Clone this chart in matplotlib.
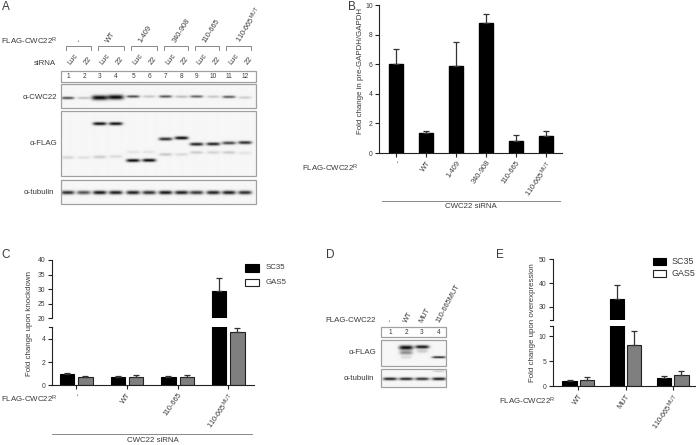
import numpy as np
import matplotlib
matplotlib.use("Agg")
import matplotlib.pyplot as plt
from matplotlib.patches import Rectangle

plt.rcParams['font.family'] = ['Liberation Sans', 'DejaVu Sans']
plt.rcParams['mathtext.fontset'] = 'custom'
plt.rcParams['mathtext.rm'] = 'Liberation Sans'
plt.rcParams['mathtext.default'] = 'rm'

W, H = 696, 445
TXT = '#3a3a3a'
SUP = r'$^{\mathrm{R}}$'
MUT = r'110-665$^{\mathrm{MUT}}$'

# ---------- data ----------
b_labels = ['-', 'WT', '1-409', '340-908', '110-665', MUT]
b_values = [6.0, 1.35, 5.9, 8.8, 0.8, 1.15]
b_errors = [1.05, 0.15, 1.6, 0.6, 0.4, 0.35]

c_labels = ['-', 'WT', '110-665', MUT]
c_sc35 = [0.95, 0.75, 0.75, 29.5]
c_sc35_err = [0.12, 0.05, 0.08, 4.2]
c_gas5 = [0.7, 0.75, 0.7, 4.6]
c_gas5_err = [0.08, 0.1, 0.15, 0.35]

e_labels = ['WT', 'MUT', MUT]
e_sc35 = [1.0, 33.5, 1.7]
e_sc35_err = [0.2, 5.8, 0.3]
e_gas5 = [1.3, 8.3, 2.2]
e_gas5_err = [0.6, 2.8, 0.8]

# western blot bands: lane number, strength (0-1)
a_groups = ['-', 'WT', '1-409', '340-908', '110-665', MUT]
a_cwc22 = [0.72, 0.22, 1.0, 1.0, 0.72, 0.2, 0.68, 0.25, 0.62, 0.2, 0.65, 0.18]
a_tubulin = [0.85, 0.7, 0.95, 0.92, 0.92, 0.85, 0.95, 0.92, 0.82, 0.9, 0.92, 0.85]
a_flag_strong = [(3, 0.98), (4, 0.98), (5, 1.0), (6, 1.0), (7, 0.85), (8, 1.0),
                 (9, 0.9), (10, 0.9), (11, 0.75), (12, 0.85)]
a_flag_faint = [(1, 0.14), (2, 0.1), (3, 0.18), (4, 0.12), (5, 0.08), (6, 0.08),
                (7, 0.2), (8, 0.12), (9, 0.18), (10, 0.15), (11, 0.18), (12, 0.08)]
d_labels = ['-', 'WT', 'MUT', '110-665MUT']
d_flag_main = [(2, 1.0), (3, 0.95), (4, 0.9)]
d_tubulin = [0.92, 0.9, 0.85, 0.95]

# ---------- helpers ----------
fig = plt.figure(figsize=(W / 100, H / 100), dpi=100, facecolor='white')
ov = fig.add_axes([0, 0, 1, 1], zorder=0)
ov.set_xlim(0, W)
ov.set_ylim(H, 0)
ov.axis('off')


def px_axes(x0, y_top, x1, y_bot):
    ax = fig.add_axes([x0 / W, 1 - y_bot / H, (x1 - x0) / W, (y_bot - y_top) / H], zorder=2)
    ax.patch.set_alpha(0)
    for s in ('top', 'right'):
        ax.spines[s].set_visible(False)
    for s in ('left', 'bottom'):
        ax.spines[s].set_linewidth(0.8)
        ax.spines[s].set_color('#222222')
    ax.tick_params(length=3, width=0.8, labelsize=4.9, pad=1.5, colors='#222222', labelcolor=TXT)
    return ax


def t(x, y, s, size=5.7, **kw):
    kw.setdefault('va', 'center')
    kw.setdefault('ha', 'left')
    kw.setdefault('color', TXT)
    ov.text(x, y, s, fontsize=size, **kw)


def rot_labels(ax, labels, rot=55, size=5.3):
    ax.set_xticklabels(labels, rotation=rot, ha='right', rotation_mode='anchor',
                       fontsize=size, color=TXT)


def blot(x0, y0, x1, y1, bands):
    """bands: (x centre, y centre, half width, half height, strength) in figure pixels"""
    ss = 3
    nx, ny = int((x1 - x0) * ss), int((y1 - y0) * ss)
    xs = x0 + (np.arange(nx) + 0.5) / ss
    ys = y0 + (np.arange(ny) + 0.5) / ss
    X, Y = np.meshgrid(xs, ys)
    dark = np.zeros_like(X)
    for cx, cy, hw, hh, s in bands:
        dark += s * np.exp(-np.abs((X - cx) / hw) ** 4) * np.exp(-((Y - cy) / hh) ** 2)
    img = 0.965 - 0.93 * np.clip(dark, 0, 1)
    ov.imshow(img, cmap='gray', vmin=0, vmax=1, extent=(x0, x1, y1, y0),
              aspect='auto', interpolation='bilinear', zorder=1)
    ov.add_patch(Rectangle((x0, y0), x1 - x0, y1 - y0, fill=False, ec='#a0a0a0', lw=0.9, zorder=2))


def box(x0, y0, x1, y1):
    ov.add_patch(Rectangle((x0, y0), x1 - x0, y1 - y0, fill=False, ec='#a0a0a0', lw=0.9, zorder=2))


def up_label(x, y, s, rot=58, size=5.3):
    t(x, y, s, size=size, rotation=rot, ha='left', va='center', rotation_mode='anchor')


# ---------- panel A ----------
t(2, 7, 'A', size=8.5)
lanes_a = [68, 84, 100, 116, 133.3, 149.3, 165.7, 181.7, 196.7, 213.3, 229, 245]
box(61.3, 70.7, 256, 81.7)
for i, x in enumerate(lanes_a):
    t(x, 76.5, str(i + 1), size=4.7, ha='center')
    up_label(x + 1, 64, 'Luc' if i % 2 == 0 else '22', rot=52, size=5.4)

ycw = [98.3, 98.3, 98, 97.5, 96.8, 96.8, 96.8, 97, 96.8, 97, 97.2, 97.8]
blot(61.3, 84.3, 256, 108.3,
     [(x, y, 6.5 if s < 1 else 8, 1.3 if s < 1 else 2.4, s) for x, y, s in zip(lanes_a, ycw, a_cwc22)])
flag_y = {3: 123.7, 4: 123.7, 5: 160.5, 6: 160.3, 7: 139, 8: 138, 9: 144.2, 10: 144, 11: 143, 12: 142.6}
faint_y = {1: 157.5, 2: 157.5, 3: 157, 4: 156.5, 5: 152, 6: 152, 7: 154.5, 8: 154.5, 9: 152.5, 10: 152.5,
           11: 152.5, 12: 153}
flag_bands = [(lanes_a[l - 1], flag_y[l], 6.8, 1.6, s) for l, s in a_flag_strong]
flag_bands += [(lanes_a[l - 1], faint_y[l], 6.5, 1.5, s) for l, s in a_flag_faint]
blot(61.3, 111, 256, 176, flag_bands)
blot(61.3, 180, 256, 204.3,
     [(x, 193, 6.8, 1.8, s) for x, s in zip(lanes_a, a_tubulin)])

t(1, 41, 'FLAG-CWC22' + SUP)
t(56, 63.5, 'siRNA', ha='right', size=5.7)
t(57, 97.5, 'α-CWC22', ha='right')
t(57, 143.5, 'α-FLAG', ha='right')
t(54.5, 192.5, 'α-tubulin', ha='right')
br_a = [(66.3, 91), (98.3, 124), (131.3, 156.7), (164, 188.3), (195, 219.3), (226, 250.7)]
starts_a = [78, 107.5, 140.5, 174, 204, 238]
for (x0, x1), lab, xs in zip(br_a, a_groups, starts_a):
    ov.plot([x0, x0, x1, x1], [49.5, 46.3, 46.3, 49.5], color='#888888', lw=0.7, zorder=2)
    up_label(xs, 42, lab)

# ---------- panel B ----------
t(348, 7, 'B', size=8.5)
axb = px_axes(379, 5, 562, 153)
xb = np.arange(len(b_values))
axb.bar(xb, b_values, 0.49, color='black', edgecolor='black')
axb.errorbar(xb, b_values, yerr=[np.zeros(6), b_errors], fmt='none', ecolor='#333333', elinewidth=0.9,
             capsize=2.3, capthick=0.9)
axb.set_xlim(-0.567, 5.533)
axb.set_ylim(0, 10)
axb.set_yticks([0, 2, 4, 6, 8, 10])
axb.set_xticks(xb)
rot_labels(axb, b_labels)
t(361, 71, 'Fold change in pre-GAPDH/GAPDH', rotation=90, ha='center', size=5.7)
t(302, 168, 'FLAG-CWC22' + SUP, size=5.7)
ov.plot([381.7, 560], [201, 201], color='#888888', lw=0.7)
t(471, 206.5, 'CWC22 siRNA', ha='center')


# ---------- grouped broken panels ----------
def broken(x0, x1, y_rows, ylims, yticks, first, step, a, a_err, b, b_err, labels):
    (t0, t1), (l0, l1) = y_rows
    up = px_axes(x0, t0, x1, t1)
    lo = px_axes(x0, l0, x1, l1)
    up.spines['bottom'].set_visible(False)
    n = len(a)
    xa = np.arange(n)
    off = 0.18
    w = 14.4 / step
    xlim = ((x0 - first) / step, (x1 - first) / step)
    for ax in (up, lo):
        ax.bar(xa - off, a, w, color='black', edgecolor='black', lw=0.8)
        ax.bar(xa + off, b, w, color='#7f7f7f', edgecolor='#222222', lw=0.8)
        ax.errorbar(xa - off, a, yerr=[np.zeros(n), a_err], fmt='none', ecolor='#333333',
                    elinewidth=0.9, capsize=2.2, capthick=0.9)
        ax.errorbar(xa + off, b, yerr=[np.zeros(n), b_err], fmt='none', ecolor='#333333',
                    elinewidth=0.9, capsize=2.2, capthick=0.9)
        ax.set_xlim(*xlim)
    up.set_ylim(*ylims[0])
    lo.set_ylim(*ylims[1])
    up.set_yticks(yticks[0])
    lo.set_yticks(yticks[1])
    up.set_xticks([])
    lo.set_xticks(xa)
    rot_labels(lo, labels)


def legend(x0, x1, y1a, y1b, y2a, y2b, xt, size):
    ov.add_patch(Rectangle((x0, y1a), x1 - x0, y1b - y1a, fc='black', ec='black', lw=0.8))
    ov.add_patch(Rectangle((x0, y2a), x1 - x0, y2b - y2a, fc='white', ec='#222222', lw=0.8))
    t(xt, (y1a + y1b) / 2, 'SC35', size=size)
    t(xt, (y2a + y2b) / 2, 'GAS5', size=size)


# ---------- panel C ----------
t(1, 255, 'C', size=8.5)
broken(51.5, 254, [(260, 318.3), (327.3, 385.3)], [(20, 40), (0, 5)],
       [[20, 25, 30, 35, 40], [0, 2, 4]], 76.2, 50.7,
       c_sc35, c_sc35_err, c_gas5, c_gas5_err, c_labels)
ov.plot([49, 51.5], [327.3, 327.3], color='#222222', lw=0.8)
t(29.5, 324, 'Fold change upon knockdown', rotation=90, ha='center', size=5.7)
t(1, 399, 'FLAG-CWC22' + SUP, size=5.7)
ov.plot([52, 252], [434.3, 434.3], color='#888888', lw=0.7)
t(153, 440, 'CWC22 siRNA', ha='center')
legend(244.5, 258.5, 264, 271.5, 279, 286, 266, 5.7)

# ---------- panel D ----------
t(326, 255, 'D', size=8.5)
lanes_d = [390, 406, 422, 438.7]
box(381, 326.7, 445.7, 337.3)
for i, x in enumerate(lanes_d):
    t(x, 332.5, str(i + 1), size=4.7, ha='center')
    up_label(x - 0.5, 322, d_labels[i], rot=62)
d_y = {2: 347.5, 3: 346.8, 4: 357}
d_h = {2: 2.2, 3: 1.7, 4: 1.0}
d_bands = [(lanes_d[l - 1], d_y[l], 7, d_h[l], s) for l, s in d_flag_main]
d_bands += [(lanes_d[1], 352.5, 6.5, 2.0, 0.45), (lanes_d[1], 357, 5.5, 1.5, 0.12),
            (lanes_d[2], 351, 5.5, 1.8, 0.18)]
blot(381, 340, 445.7, 365.7, d_bands)
blot(381, 369.3, 445.7, 387,
     [(x, 379, 7, 1.4, s) for x, s in zip(lanes_d, d_tubulin)] + [(lanes_d[3], 371.5, 6, 0.8, 0.2)])
t(376, 321, 'FLAG-CWC22', ha='right')
t(376.5, 353, 'α-FLAG', ha='right')
t(374.5, 378.5, 'α-tubulin', ha='right')

# ---------- panel E ----------
t(496, 255, 'E', size=8.5)
broken(552.7, 696, [(259.3, 320), (326, 386.3)], [(24.5, 50), (0, 12)],
       [[30, 40, 50], [0, 5, 10]], 578.2, 47.3,
       e_sc35, e_sc35_err, e_gas5, e_gas5_err, e_labels)
ov.plot([550, 552.7], [326, 326], color='#222222', lw=0.8)
ov.plot([550, 552.7], [320, 320], color='#222222', lw=0.8)
t(533, 323, 'Fold change upon overexpression', rotation=90, ha='center', size=5.7)
t(499, 401, 'FLAG-CWC22' + SUP, size=5.7)
legend(652.5, 665.5, 258, 264.5, 270, 276.5, 672, 6.4)

ov.set_xlim(0, W)
ov.set_ylim(H, 0)
fig.savefig('out.png', dpi=100)
